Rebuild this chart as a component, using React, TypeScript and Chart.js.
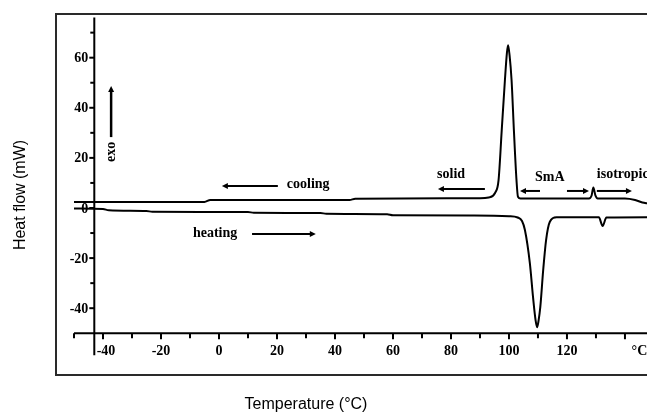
import React, { useEffect, useRef } from "react";
import { Chart, registerables } from "chart.js";

Chart.register(...registerables);

// ---- Data ----
// Cooling run (upper trace): temperature (°C) and heat flow (mW)
const coolingT = [-50, -5, -3, 45, 47, 90, 93, 95.2, 96.4, 97.5, 98.6, 99.3, 99.7, 100.2, 100.9, 101.7, 102.6, 103.1, 104, 127.6, 128.5, 129.1, 129.8, 130.6, 140, 143.5, 146, 148];
const coolingQ = [2.4, 2.4, 3.2, 3.2, 3.7, 3.9, 4.2, 6, 11, 31, 51, 62, 65, 61, 51, 31, 11, 4.5, 3.8, 3.8, 5, 8.2, 5, 3.8, 3.8, 3.2, 2.2, 1.8];

// Heating run (lower trace)
const heatingT = [-50, -40, -38, -25, -23, 10, 12, 35, 37, 58, 60, 88, 100, 103, 104.5, 105.5, 107.2, 108.3, 109.2, 109.7, 110.2, 110.8, 111.8, 112.8, 114.1, 116.4, 131, 132.3, 133.6, 148];
const heatingQ = [-0.2, -0.4, -0.9, -1.2, -1.5, -1.6, -1.9, -2.0, -2.3, -2.5, -2.9, -3.0, -3.3, -3.8, -5.2, -8.8, -22, -35.6, -45, -47.6, -45, -39.6, -24.8, -12.8, -5.5, -3.7, -3.7, -7.2, -3.8, -3.7];

// Axis ticks
const xMajorTicks = [-40, -20, 0, 20, 40, 60, 80, 100, 120, 140];
const xTickLabels = ["-40", "-20", "0", "20", "40", "60", "80", "100", "120", ""];
const xMinorTicks = [-50, -30, -10, 10, 30, 50, 70, 90, 110, 130];
const yMajorTicks = [-40, -20, 0, 20, 40, 60];
const yTickLabels = ["-40", "-20", "0", "20", "40", "60"];
const yMinorTicks = [-30, -10, 10, 30, 50, 70];

const xUnitLabel = "°C";
const xUnitAt = 145;
const xTitle = "Temperature (°C)";
const yTitle = "Heat flow (mW)";

const xMin = -50;
const xMax = 147.6;
const yMin = -50;
const yMax = 76;
const yAxisAt = -43; // temperature where the vertical axis is drawn

// Annotations in data coordinates
const labelTexts = ["cooling", "heating", "solid", "SmA", "isotropic"];
const labelT = [23.4, -9, 75.2, 109, 130.3];
const labelQ = [9.6, -10, 13.6, 12.4, 13.6];

// Arrows: [fromT, fromQ, toT, toQ]
const arrowFromT = [20.3, 11.4, 91.7, 110.7, 120, 130.3];
const arrowToT = [1.0, 33.4, 75.5, 103.8, 127.6, 142.4];
const arrowQ = [8.8, -10.4, 7.6, 6.8, 6.8, 6.8];

const exoText = "exo";
const exoT = -37.2;
const exoTextQ = 22.4;
const exoArrowFromQ = 28.3;
const exoArrowToQ = 48.7;

const SERIF_BOLD = 'bold 14px "Liberation Serif", "DejaVu Serif", serif';
const SANS = '16px "Liberation Sans", Arial, sans-serif';

function drawArrow(ctx: CanvasRenderingContext2D, x1: number, y1: number, x2: number, y2: number) {
  const ang = Math.atan2(y2 - y1, x2 - x1);
  const head = 6;
  const hw = 3;
  ctx.beginPath();
  ctx.moveTo(x1, y1);
  ctx.lineTo(x2 - Math.cos(ang) * head * 0.8, y2 - Math.sin(ang) * head * 0.8);
  ctx.stroke();
  ctx.beginPath();
  ctx.moveTo(x2, y2);
  ctx.lineTo(x2 - Math.cos(ang) * head - Math.sin(ang) * hw, y2 - Math.sin(ang) * head + Math.cos(ang) * hw);
  ctx.lineTo(x2 - Math.cos(ang) * head + Math.sin(ang) * hw, y2 - Math.sin(ang) * head - Math.cos(ang) * hw);
  ctx.closePath();
  ctx.fill();
}

const dscPlugin = {
  id: "dscDecor",
  beforeDatasetsDraw(chart: any) {
    const { ctx } = chart;
    const xs = chart.scales.x;
    const ys = chart.scales.y;
    ctx.save();
    // outer frame
    ctx.strokeStyle = "#2a2a2a";
    ctx.lineWidth = 2;
    ctx.strokeRect(56, 14, 700, 361);

    ctx.strokeStyle = "#000";
    ctx.fillStyle = "#000";
    ctx.lineWidth = 2;
    const axisY = ys.getPixelForValue(yMin);
    const yAxisX = xs.getPixelForValue(yAxisAt);

    // x axis line
    ctx.beginPath();
    ctx.moveTo(xs.left, axisY);
    ctx.lineTo(xs.right + 10, axisY);
    ctx.stroke();
    // x ticks
    ctx.lineWidth = 2;
    xMajorTicks.forEach((t) => {
      const px = xs.getPixelForValue(t);
      ctx.beginPath();
      ctx.moveTo(px, axisY);
      ctx.lineTo(px, axisY + 6);
      ctx.stroke();
    });
    xMinorTicks.forEach((t) => {
      const px = xs.getPixelForValue(t);
      ctx.beginPath();
      ctx.moveTo(px, axisY);
      ctx.lineTo(px, axisY + 5);
      ctx.stroke();
    });
    ctx.font = SERIF_BOLD;
    ctx.textAlign = "center";
    ctx.textBaseline = "top";
    xMajorTicks.forEach((t, i) => {
      const lbl = xTickLabels[i];
      if (!lbl) return;
      let px = xs.getPixelForValue(t);
      if (i === 0) px += 3;
      ctx.fillText(lbl, px, axisY + 11);
    });
    ctx.fillText(xUnitLabel, xs.getPixelForValue(xUnitAt), axisY + 11);

    // y axis line
    ctx.beginPath();
    ctx.moveTo(yAxisX, ys.top);
    ctx.lineTo(yAxisX, axisY + 22);
    ctx.stroke();
    yMajorTicks.forEach((v) => {
      const py = ys.getPixelForValue(v);
      ctx.beginPath();
      ctx.moveTo(yAxisX - 5, py);
      ctx.lineTo(yAxisX, py);
      ctx.stroke();
    });
    yMinorTicks.forEach((v) => {
      const py = ys.getPixelForValue(v);
      ctx.beginPath();
      ctx.moveTo(yAxisX - 4, py);
      ctx.lineTo(yAxisX, py);
      ctx.stroke();
    });
    ctx.textAlign = "right";
    ctx.textBaseline = "middle";
    yMajorTicks.forEach((v, i) => {
      ctx.fillText(yTickLabels[i], yAxisX - 6, ys.getPixelForValue(v) + 1);
    });

    // axis titles
    ctx.font = SANS;
    ctx.textAlign = "center";
    ctx.textBaseline = "middle";
    ctx.fillText(xTitle, 306, 405);
    ctx.save();
    ctx.translate(21, 195);
    ctx.rotate(-Math.PI / 2);
    ctx.fillText(yTitle, 0, 0);
    ctx.restore();
    ctx.restore();
  },
  afterDatasetsDraw(chart: any) {
    const { ctx } = chart;
    const xs = chart.scales.x;
    const ys = chart.scales.y;
    ctx.save();
    ctx.fillStyle = "#000";
    ctx.strokeStyle = "#000";
    ctx.font = SERIF_BOLD;
    ctx.textAlign = "left";
    ctx.textBaseline = "middle";
    labelTexts.forEach((txt, i) => {
      ctx.fillText(txt, xs.getPixelForValue(labelT[i]), ys.getPixelForValue(labelQ[i]));
    });
    ctx.lineWidth = 2;
    arrowFromT.forEach((t, i) => {
      const py = ys.getPixelForValue(arrowQ[i]);
      drawArrow(ctx, xs.getPixelForValue(t), py, xs.getPixelForValue(arrowToT[i]), py);
    });
    // exo arrow + rotated text
    const ex = xs.getPixelForValue(exoT);
    ctx.lineWidth = 2.5;
    drawArrow(ctx, ex, ys.getPixelForValue(exoArrowFromQ), ex, ys.getPixelForValue(exoArrowToQ));
    ctx.save();
    ctx.translate(ex, ys.getPixelForValue(exoTextQ));
    ctx.rotate(-Math.PI / 2);
    ctx.textAlign = "center";
    ctx.textBaseline = "middle";
    ctx.fillText(exoText, 0, 0);
    ctx.restore();
    ctx.restore();
  },
};

export default function App() {
  const canvasRef = useRef<HTMLCanvasElement | null>(null);

  useEffect(() => {
    const canvas = canvasRef.current;
    if (!canvas) return;
    const chart = new Chart(canvas, {
      type: "line",
      data: {
        datasets: [
          {
            label: "cooling",
            data: coolingT.map((t, i) => ({ x: t, y: coolingQ[i] })),
            borderColor: "#000",
            borderWidth: 2,
            pointRadius: 0,
            cubicInterpolationMode: "monotone",
            fill: false,
          },
          {
            label: "heating",
            data: heatingT.map((t, i) => ({ x: t, y: heatingQ[i] })),
            borderColor: "#000",
            borderWidth: 2,
            pointRadius: 0,
            cubicInterpolationMode: "monotone",
            fill: false,
          },
        ],
      },
      options: {
        animation: false,
        responsive: false,
        devicePixelRatio: 1,
        layout: { padding: { left: 74, right: 0, top: 17.6, bottom: 83.75 } },
        plugins: { legend: { display: false }, tooltip: { enabled: false } },
        scales: {
          x: { type: "linear", min: xMin, max: xMax, display: false },
          y: { type: "linear", min: yMin, max: yMax, display: false },
        },
      },
      plugins: [dscPlugin],
    });
    return () => chart.destroy();
  }, []);

  return (
    <div style={{ position: "fixed", left: 0, top: 0, width: 647, height: 417, background: "#fff" }}>
      <canvas ref={canvasRef} width={647} height={417} />
    </div>
  );
}
